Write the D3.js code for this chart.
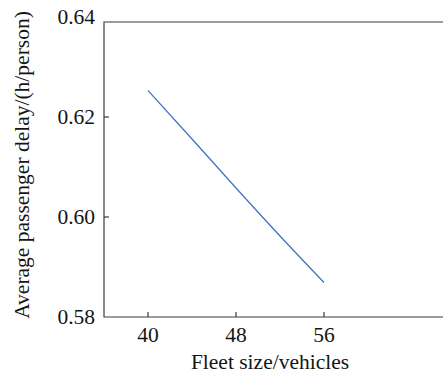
<!DOCTYPE html>
<html>
<head>
<meta charset="utf-8">
<script src="https://cdn.jsdelivr.net/npm/d3@7"></script>
<style>
    html, body { margin: 0; padding: 0; background: #fff; overflow: hidden; }
    svg { display: block; font-family: "Liberation Serif", "DejaVu Serif", serif; }
</style>
</head>
<body>
<div id="chart"></div>
<script>
// values
const fleet_sizes = [40, 44, 48, 52, 56];
const passenger_delay = [0.6253, 0.6156, 0.6058, 0.5962, 0.5869];
const x_ticks = [40, 48, 56];
const y_ticks = [0.58, 0.60, 0.62, 0.64];
const x_domain = [36, 68];
const y_domain = [0.58, 0.64];
const y_frame_top = 0.639;

const width = 443;
const height = 376;
const tick_len = 5;
const axis_color = '#3a3a3a';
const text_color = '#151515';
const font_size = '21.5px';

const svg = d3.select('#chart')
    .append('svg')
    .attr('width', width)
    .attr('height', height);

const x = d3.scaleLinear().domain(x_domain).range([104, 456]);
const y = d3.scaleLinear().domain(y_domain).range([317, 17]);

// frame (left, top, bottom; right side runs off the picture)
svg.append('path')
    .attr('d', `M${x(x_domain[1])},${y(y_frame_top)}H${x(x_domain[0])}V${y(y_domain[0])}H${x(x_domain[1])}`)
    .attr('fill', 'none')
    .attr('stroke', axis_color)
    .attr('stroke-width', 1.2);

// x ticks point inward
const x_tick_g = svg.append('g')
    .selectAll('g')
    .data(x_ticks)
    .enter()
    .append('g')
    .attr('transform', d => `translate(${x(d)}, ${y(y_domain[0])})`);

x_tick_g.append('line')
    .attr('y2', -tick_len)
    .attr('stroke', axis_color)
    .attr('stroke-width', 1.2);

x_tick_g.append('text')
    .attr('y', 24.5)
    .attr('text-anchor', 'middle')
    .style('font-size', font_size)
    .style('fill', text_color)
    .text(d => d);

// y ticks
const y_tick_g = svg.append('g')
    .selectAll('g')
    .data(y_ticks)
    .enter()
    .append('g')
    .attr('transform', d => `translate(${x(x_domain[0])}, ${y(d)})`);

y_tick_g.filter(d => d > y_domain[0] && d < y_frame_top)
    .append('line')
    .attr('x2', tick_len)
    .attr('stroke', axis_color)
    .attr('stroke-width', 1.2);

y_tick_g.append('text')
    .attr('x', -9)
    .attr('dy', '0.34em')
    .attr('text-anchor', 'end')
    .style('font-size', font_size)
    .style('fill', text_color)
    .text(d => d3.format('.2f')(d));

// series
const line = d3.line()
    .x((d, i) => x(fleet_sizes[i]))
    .y(d => y(d))
    .curve(d3.curveMonotoneX);

svg.append('path')
    .datum(passenger_delay)
    .attr('d', line)
    .attr('fill', 'none')
    .attr('stroke', '#4472c4')
    .attr('stroke-width', 1.3);

// axis titles
svg.append('text')
    .attr('x', 270)
    .attr('y', 369)
    .attr('text-anchor', 'middle')
    .style('font-size', font_size)
    .style('fill', text_color)
    .text('Fleet size/vehicles');

svg.append('text')
    .attr('transform', `translate(29, 165) rotate(-90)`)
    .attr('text-anchor', 'middle')
    .style('font-size', font_size)
    .style('fill', text_color)
    .text('Average passenger delay/(h/person)');
</script>
</body>
</html>
